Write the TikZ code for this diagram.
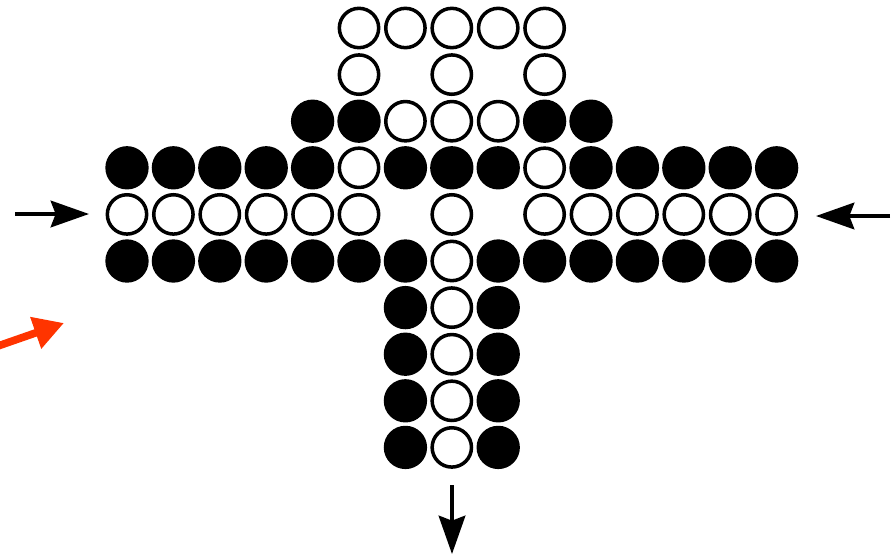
\documentclass[tikz,border=0pt]{standalone}
\usetikzlibrary{arrows.meta}
\definecolor{hintred}{RGB}{255,52,0}

\begin{document}
\begin{tikzpicture}[x=0.03cm,y=-0.03cm,
  full/.style={circle,fill=black,inner sep=0pt,minimum size=1.3cm},
  hollow/.style={circle,draw=black,fill=white,line width=3pt,inner sep=0pt,minimum size=1.18cm},
  flow/.style={line width=3pt,-{Stealth[length=1.15cm,width=0.8cm,inset=0.15cm]}},
  hint/.style={draw=hintred,line width=6.5pt,-{Triangle[length=0.9cm,width=0.95cm]},hintred}
]
\useasboundingbox (0,0) rectangle (893,556);

\begin{scope}[shift={(127,28)},x=1.392cm,y=-1.398cm]
% top loop
\foreach \c in {5,...,9} \node[hollow] (o0-\c) at (\c,0) {};
\foreach \c in {5,7,9} \node[hollow] (o1-\c) at (\c,1) {};
\foreach \c in {4,5,9,10} \node[full] (f2-\c) at (\c,2) {};
\foreach \c in {6,7,8} \node[hollow] (o2-\c) at (\c,2) {};
% cross bar
\foreach \c in {0,1,2,3,4,6,7,8,10,11,12,13,14} \node[full] (f3-\c) at (\c,3) {};
\foreach \c in {5,9} \node[hollow] (o3-\c) at (\c,3) {};
\foreach \c in {0,1,2,3,4,5,7,9,10,11,12,13,14} \node[hollow] (o4-\c) at (\c,4) {};
\foreach \c in {0,1,2,3,4,5,6,8,9,10,11,12,13,14} \node[full] (f5-\c) at (\c,5) {};
\node[hollow] (o5-7) at (7,5) {};
% stem
\foreach \r in {6,...,9} {
  \node[full] (f\r-6) at (6,\r) {};
  \node[hollow] (o\r-7) at (7,\r) {};
  \node[full] (f\r-8) at (8,\r) {};
}
\end{scope}

\coordinate (inL) at (15,214);
\coordinate (inLtip) at (89,214);
\coordinate (inR) at (890,216);
\coordinate (inRtip) at (816,216);
\coordinate (out) at (452,485);
\coordinate (outtip) at (452,554);
\coordinate (hintfrom) at (-2,346);
\coordinate (hintto) at (64,323);

\draw[flow] (inL) -- (inLtip);
\draw[flow] (inR) -- (inRtip);
\draw[flow] (out) -- (outtip);
\draw[hint] (hintfrom) -- (hintto);
\end{tikzpicture}
\end{document}
